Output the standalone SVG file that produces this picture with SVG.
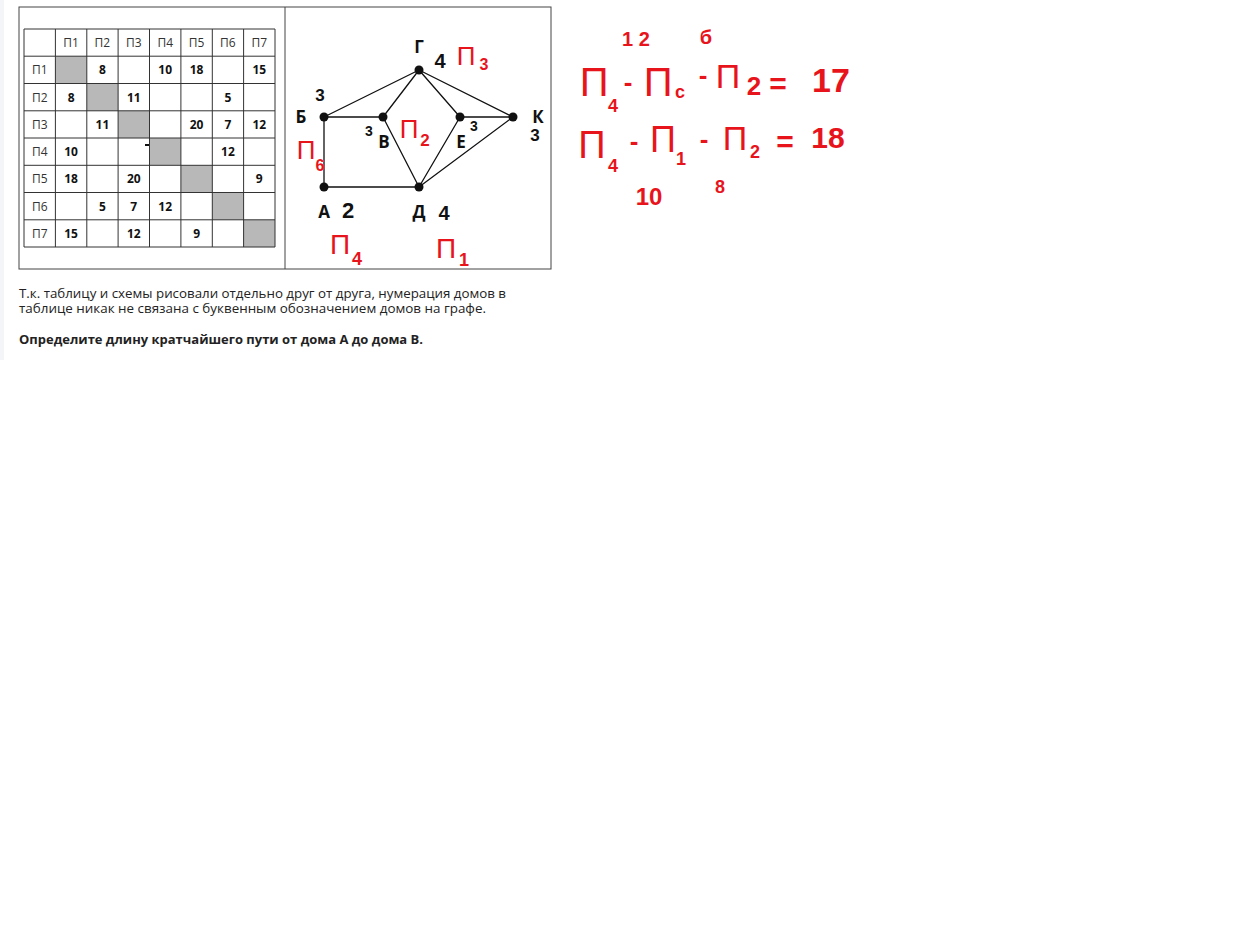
<svg xmlns="http://www.w3.org/2000/svg" width="1234" height="940" viewBox="0 0 1234 940">
<style>
.g{stroke:#333;stroke-width:1;fill:none}
.h{font-family:"Open Sans","Liberation Sans",sans-serif;font-size:12px;fill:#333;text-anchor:middle}
.n{font-family:"Open Sans","Liberation Sans",sans-serif;font-size:12px;font-weight:bold;fill:#111;text-anchor:middle}
.gl{font-family:"Open Sans","Liberation Sans",sans-serif;font-size:17px;font-weight:bold;fill:#111;text-anchor:middle}
.e{stroke:#111;stroke-width:1.3;fill:none}
.hb{font-family:"Liberation Sans",sans-serif;font-weight:bold;fill:#111;text-anchor:middle}
.hr{font-family:"Liberation Sans",sans-serif;fill:#e8141c;text-anchor:middle}
.t{font-family:"Open Sans","Liberation Sans",sans-serif;font-size:12.5px;fill:#222}
</style>
<rect width="1234" height="940" fill="#fff"/>
<rect x="0" y="0" width="4" height="360" fill="#f3f5f9"/>
<rect x="19" y="7" width="532" height="262" fill="#fff" stroke="#444" stroke-width="1"/>
<line x1="285" y1="7" x2="285" y2="269" stroke="#444"/>
<g id="table">
<rect x="55.4" y="56.2" width="31.4" height="27.3" fill="#b8b8b8"/>
<rect x="86.8" y="83.5" width="31.4" height="27.3" fill="#b8b8b8"/>
<rect x="118.1" y="110.8" width="31.4" height="27.3" fill="#b8b8b8"/>
<rect x="149.5" y="138" width="31.4" height="27.3" fill="#b8b8b8"/>
<rect x="180.9" y="165.3" width="31.4" height="27.3" fill="#b8b8b8"/>
<rect x="212.3" y="192.5" width="31.4" height="27.3" fill="#b8b8b8"/>
<rect x="243.6" y="219.8" width="31.4" height="27.3" fill="#b8b8b8"/>
<path class="g" d="M24 29H275V247H24Z M55.4 29V247 M86.8 29V247 M118.1 29V247 M149.5 29V247 M180.9 29V247 M212.3 29V247 M243.6 29V247 M24 56.2H275 M24 83.5H275 M24 110.8H275 M24 138H275 M24 165.3H275 M24 192.5H275 M24 219.8H275"/>
<g class="h">
<text x="71.1" y="47">П1</text><text x="102.4" y="47">П2</text><text x="133.8" y="47">П3</text><text x="165.2" y="47">П4</text><text x="196.6" y="47">П5</text><text x="227.9" y="47">П6</text><text x="259.3" y="47">П7</text>
<text x="39.7" y="74.3">П1</text><text x="39.7" y="101.5">П2</text><text x="39.7" y="128.8">П3</text><text x="39.7" y="156">П4</text><text x="39.7" y="183.3">П5</text><text x="39.7" y="210.5">П6</text><text x="39.7" y="237.8">П7</text>
</g>
<g class="n">
<text x="102.4" y="74.3">8</text><text x="165.2" y="74.3">10</text><text x="196.6" y="74.3">18</text><text x="259.3" y="74.3">15</text>
<text x="71.1" y="101.5">8</text><text x="133.8" y="101.5">11</text><text x="227.9" y="101.5">5</text>
<text x="102.4" y="128.8">11</text><text x="196.6" y="128.8">20</text><text x="227.9" y="128.8">7</text><text x="259.3" y="128.8">12</text>
<text x="71.1" y="156">10</text><text x="227.9" y="156">12</text>
<text x="71.1" y="183.3">18</text><text x="133.8" y="183.3">20</text><text x="259.3" y="183.3">9</text>
<text x="102.4" y="210.5">5</text><text x="133.8" y="210.5">7</text><text x="165.2" y="210.5">12</text>
<text x="71.1" y="237.8">15</text><text x="133.8" y="237.8">12</text><text x="196.6" y="237.8">9</text>
</g>
<line x1="145" y1="145" x2="149" y2="145" stroke="#111" stroke-width="2"/>
</g>
<g id="connectors">
<path class="e" d="M419 70L324 117 M419 70L383 117 M419 70L460 117 M419 70L513 117 M324 117H383 M460 117H513 M324 117V187H419 M383 117L419 187 M460 117L419 187 M513 117L419 187"/>
</g>
<g id="node-G"><circle cx="419" cy="70" r="4.5" fill="#111"/><text class="gl" x="419" y="53">Г</text></g>
<g id="node-B"><circle cx="324" cy="117" r="4.5" fill="#111"/><text class="gl" x="301" y="123">Б</text></g>
<g id="node-V"><circle cx="383" cy="117" r="4.5" fill="#111"/><text class="gl" x="384" y="148">В</text></g>
<g id="node-E"><circle cx="460" cy="117" r="4.5" fill="#111"/><text class="gl" x="461" y="148">Е</text></g>
<g id="node-K"><circle cx="513" cy="117" r="4.5" fill="#111"/><text class="gl" x="538" y="123">К</text></g>
<g id="node-A"><circle cx="324" cy="187" r="4.5" fill="#111"/><text class="gl" x="324" y="218">А</text></g>
<g id="node-D"><circle cx="419" cy="187" r="4.5" fill="#111"/><text class="gl" x="419" y="218">Д</text></g>
<g id="notes">
<text class="hb" x="320" y="101" font-size="17">3</text>
<text class="hb" x="440" y="68" font-size="20">4</text>
<text class="hb" x="369" y="136" font-size="14">3</text>
<text class="hb" x="474" y="131" font-size="14">3</text>
<text class="hb" x="535" y="141" font-size="17">3</text>
<text class="hb" x="348" y="218" font-size="22">2</text>
<text class="hb" x="444" y="220" font-size="20">4</text>
<text class="hr" x="466" y="65" font-size="26">П</text><text class="hr" x="484" y="70" font-size="16" font-weight="bold">3</text>
<text class="hr" x="409" y="138" font-size="26">П</text><text class="hr" x="425" y="146" font-size="17" font-weight="bold">2</text>
<text class="hr" x="306" y="159" font-size="26">П</text><text class="hr" x="320" y="171" font-size="16" font-weight="bold">6</text>
<text class="hr" x="340" y="254" font-size="28">П</text><text class="hr" x="357" y="265" font-size="18" font-weight="bold">4</text>
<text class="hr" x="446" y="258" font-size="28">П</text><text class="hr" x="464" y="266" font-size="18" font-weight="bold">1</text>
<text class="hr" x="636" y="46" font-size="20" font-weight="bold">1 2</text>
<text class="hr" x="706" y="44" font-size="20" font-weight="bold">б</text>
<text class="hr" x="594" y="96" font-size="40">П</text><text class="hr" x="613" y="112" font-size="18" font-weight="bold">4</text>
<text class="hr" x="628" y="91" font-size="26" font-weight="bold">-</text>
<text class="hr" x="658" y="96" font-size="40">П</text><text class="hr" x="680" y="98" font-size="18" font-weight="bold">c</text>
<text class="hr" x="703" y="84" font-size="26" font-weight="bold">-</text>
<text class="hr" x="728" y="88" font-size="34">П</text><text class="hr" x="754" y="95" font-size="26" font-weight="bold">2</text>
<text class="hr" x="778" y="94" font-size="30" font-weight="bold">=</text>
<text class="hr" x="831" y="92" font-size="34" font-weight="bold">17</text>
<text class="hr" x="592" y="158" font-size="38">П</text><text class="hr" x="613" y="172" font-size="18" font-weight="bold">4</text>
<text class="hr" x="634" y="150" font-size="26" font-weight="bold">-</text>
<text class="hr" x="663" y="152" font-size="36">П</text><text class="hr" x="681" y="165" font-size="18" font-weight="bold">1</text>
<text class="hr" x="704" y="148" font-size="26" font-weight="bold">-</text>
<text class="hr" x="735" y="150" font-size="34">П</text><text class="hr" x="755" y="158" font-size="18" font-weight="bold">2</text>
<text class="hr" x="785" y="152" font-size="30" font-weight="bold">=</text>
<text class="hr" x="828" y="148" font-size="30" font-weight="bold">18</text>
<text class="hr" x="649" y="205" font-size="24" font-weight="bold">10</text>
<text class="hr" x="720" y="193" font-size="18" font-weight="bold">8</text>
</g>
<g id="caption">
<text class="t" x="19" y="298" textLength="487" lengthAdjust="spacingAndGlyphs">Т.к. таблицу и схемы рисовали отдельно друг от друга, нумерация домов в</text>
<text class="t" x="19" y="313" textLength="467" lengthAdjust="spacingAndGlyphs">таблице никак не связана с буквенным обозначением домов на графе.</text>
<text class="t" x="19" y="344" font-weight="bold" textLength="404" lengthAdjust="spacingAndGlyphs">Определите длину кратчайшего пути от дома А до дома В.</text>
</g>
</svg>
